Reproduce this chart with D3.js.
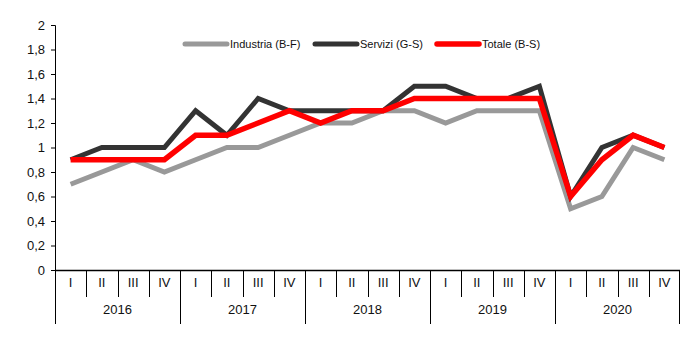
<!DOCTYPE html>
<html>
<head>
<meta charset="utf-8">
<script src="https://cdn.jsdelivr.net/npm/d3@7"></script>
<style>
  body { margin: 0; background: #fff; }
  svg text { font-family: "Liberation Sans", Arial, sans-serif; fill: #111; }
</style>
</head>
<body>
<div id="chart"></div>
<script>
// data
const years = ["2016", "2017", "2018", "2019", "2020"];
const quarters = ["I", "II", "III", "IV"];
const seriesNames = ["Industria (B-F)", "Servizi (G-S)", "Totale (B-S)"];
const industria = [0.7, 0.8, 0.9, 0.8, 0.9, 1.0, 1.0, 1.1, 1.2, 1.2, 1.3, 1.3, 1.2, 1.3, 1.3, 1.3, 0.5, 0.6, 1.0, 0.9];
const servizi   = [0.9, 1.0, 1.0, 1.0, 1.3, 1.1, 1.4, 1.3, 1.3, 1.3, 1.3, 1.5, 1.5, 1.4, 1.4, 1.5, 0.6, 1.0, 1.1, 1.0];
const totale    = [0.9, 0.9, 0.9, 0.9, 1.1, 1.1, 1.2, 1.3, 1.2, 1.3, 1.3, 1.4, 1.4, 1.4, 1.4, 1.4, 0.6, 0.9, 1.1, 1.0];
const yTicks = [0, 0.2, 0.4, 0.6, 0.8, 1, 1.2, 1.4, 1.6, 1.8, 2];

const colors = ["#999999", "#333333", "#ff0000"];
const widths = [5, 5, 5.5];

const width = 695, height = 352;
const margin = { top: 25, right: 15, bottom: 82, left: 55 };
const innerW = width - margin.left - margin.right;
const innerH = height - margin.top - margin.bottom;

const svg = d3.select("#chart").append("svg")
    .attr("width", width)
    .attr("height", height);

const g = svg.append("g")
    .attr("transform", `translate(${margin.left},${margin.top})`);

// categories like "2016-I"
const cats = [];
years.forEach(y => quarters.forEach(q => cats.push(y + "-" + q)));

const x = d3.scaleBand().domain(cats).range([0, innerW]);
const y = d3.scaleLinear().domain([0, 2]).range([innerH, 0]);

// y axis
const yAxis = d3.axisLeft(y)
    .tickValues(yTicks)
    .tickSize(4)
    .tickPadding(6)
    .tickFormat(d => String(d).replace(".", ","));

g.append("g")
    .call(yAxis)
    .call(s => s.select(".domain").attr("stroke", "#000").attr("d", `M-4,0.5H0.5V${innerH}`))
    .call(s => s.selectAll(".tick line").attr("stroke", "#000"))
    .call(s => s.selectAll(".tick text").style("font-size", "13px"));

// x axis: baseline + separators
const xg = g.append("g").attr("transform", `translate(0,${innerH})`);
xg.append("line")
    .attr("x1", 0).attr("x2", innerW)
    .attr("y1", 0.5).attr("y2", 0.5)
    .attr("stroke", "#000").attr("stroke-width", 1.5);

const qLen = 27, yLen = 54;
cats.forEach((c, i) => {
    const xb = Math.round(x(c)) + 0.5;
    const isYear = i % 4 === 0;
    xg.append("line")
        .attr("x1", xb).attr("x2", xb)
        .attr("y1", 0).attr("y2", isYear ? yLen : qLen)
        .attr("stroke", "#000");
    xg.append("text")
        .attr("x", x(c) + x.bandwidth() / 2)
        .attr("y", 17)
        .attr("text-anchor", "middle")
        .style("font-size", "13px")
        .text(c.split("-")[1]);
});
xg.append("line")
    .attr("x1", innerW - 0.5).attr("x2", innerW - 0.5)
    .attr("y1", 0).attr("y2", yLen)
    .attr("stroke", "#000");

years.forEach(yr => {
    const x0 = x(yr + "-I"), x1 = x(yr + "-IV") + x.bandwidth();
    xg.append("text")
        .attr("x", (x0 + x1) / 2)
        .attr("y", 44)
        .attr("text-anchor", "middle")
        .style("font-size", "13px")
        .text(yr);
});

// lines
const allSeries = [industria, servizi, totale];
const line = d3.line()
    .x((d, i) => x(cats[i]) + x.bandwidth() / 2)
    .y(d => y(d));

allSeries.forEach((s, k) => {
    g.append("path")
        .datum(s)
        .attr("fill", "none")
        .attr("stroke", colors[k])
        .attr("stroke-width", widths[k])
        .attr("stroke-linejoin", "miter")
        .attr("stroke-linecap", "butt")
        .attr("d", line);
});

// legend
const legendX = [185, 315, 437];
const legend = svg.append("g").attr("transform", "translate(0,44)");
seriesNames.forEach((name, k) => {
    legend.append("line")
        .attr("x1", legendX[k]).attr("x2", legendX[k] + 42)
        .attr("y1", 0).attr("y2", 0)
        .attr("stroke", colors[k])
        .attr("stroke-width", widths[k])
        .attr("stroke-linecap", "round");
    legend.append("text")
        .attr("x", legendX[k] + 45)
        .attr("y", 4)
        .style("font-size", "11px")
        .text(name);
});
</script>
</body>
</html>
